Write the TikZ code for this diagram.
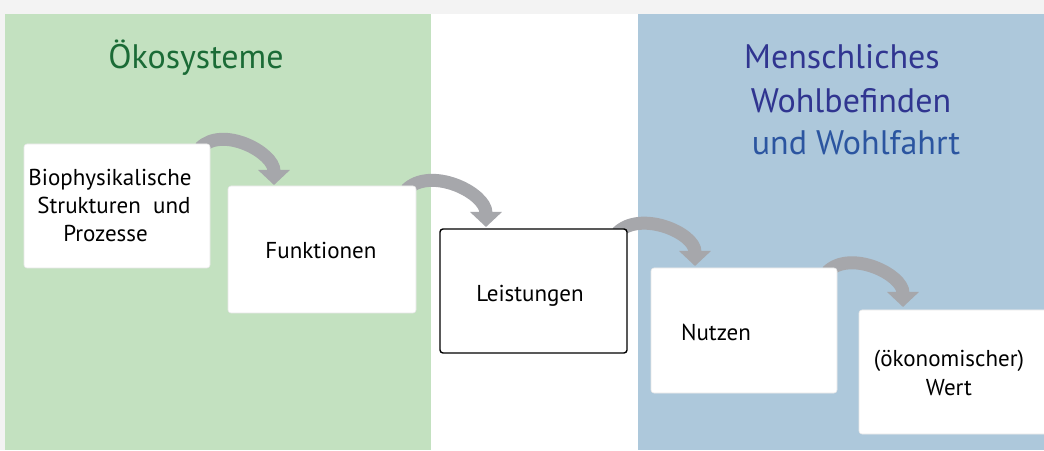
\documentclass[tikz,border=0pt]{standalone}
\usepackage{fontspec}
\setmainfont{PT Sans}
\usetikzlibrary{arrows.meta}
\definecolor{stripgray}{HTML}{F3F3F3}
\definecolor{ecogreen}{HTML}{C3E1C0}
\definecolor{humblue}{HTML}{ADC8DB}
\definecolor{arrowgray}{HTML}{A6A7AB}
\definecolor{titlegreen}{HTML}{1B6B36}
\definecolor{titleblue}{HTML}{303590}
\definecolor{titleblueb}{HTML}{2B55A0}
\definecolor{faint}{HTML}{E8E8E8}
\pgfdeclarelayer{back}
\pgfdeclarelayer{mid}
\pgfsetlayers{back,mid,main}
\tikzset{
  stepbox/.style={rectangle, fill=white, draw=faint, line width=0.6pt, rounded corners=3pt,
    outer sep=0pt, inner sep=0pt, anchor=north west},
  keybox/.style={stepbox, draw=black, line width=1.4pt},
  boxtext/.style={font=\fontsize{23}{28}\selectfont, text=black, anchor=base, inner sep=0pt, align=center},
  titletext/.style={font=\fontsize{34}{44}\selectfont, anchor=base, inner sep=0pt},
  flow/.style={draw=arrowgray, line width=13pt, -{Triangle[length=15pt,width=31pt]}}
}
\begin{document}
\begin{tikzpicture}[x=1pt,y=1pt]
\useasboundingbox (0,0) rectangle (1044,450);
\begin{pgfonlayer}{back}
  \fill[stripgray] (0,0) rectangle (1044,450);
  \fill[ecogreen] (5,0) rectangle (431,436);
  \fill[white] (431,0) rectangle (638,436);
  \fill[humblue] (638,0) rectangle (1044,436);
\end{pgfonlayer}

\node[titletext, text=titlegreen] (teco) at (196,381) {Ökosysteme};
\node[titletext, text=titleblue] (thum1) at (842,381) {Menschliches};
\node[titletext, text=titleblue] (thum2) at (851,337) {Wohlbefinden};
\node[titletext, text=titleblueb] (thum3) at (856,295) {und Wohlfahrt};

\node[stepbox, minimum width=186pt, minimum height=124pt] (b1) at (24,306) {};
\node[stepbox, minimum width=188pt, minimum height=127pt] (b2) at (228,264) {};
\node[keybox, minimum width=187pt, minimum height=124pt] (b3) at (440,221) {};
\node[stepbox, minimum width=186pt, minimum height=125pt] (b4) at (651,182) {};
\node[stepbox, minimum width=190pt, minimum height=124pt] (b5) at (859,140) {};

\node[boxtext] (t1) at (110,208) {Biophysikalische\\\hspace*{8pt}Strukturen\ \ und\\Prozesse\hspace*{9pt}};
\node[boxtext] (t2) at (321,191) {Funktionen};
\node[boxtext] (t3) at (530,148) {Leistungen};
\node[boxtext] (t4) at (716,109) {Nutzen};
\node[boxtext] (t5) at (949,55) {(ökonomischer)\\Wert};

\begin{pgfonlayer}{mid}
  \draw[flow] ([shift={(-10,-4)}]b1.north east) to[out=45,in=90] ([shift={(46,1)}]b2.north west);
  \draw[flow] ([shift={(-10,-4)}]b2.north east) to[out=45,in=90] ([shift={(46,2)}]b3.north west);
  \draw[flow] ([shift={(-10,-4)}]b3.north east) to[out=45,in=90] ([shift={(44,2)}]b4.north west);
  \draw[flow] ([shift={(-10,-4)}]b4.north east) to[out=45,in=90] ([shift={(44,3)}]b5.north west);
\end{pgfonlayer}
\end{tikzpicture}
\end{document}
